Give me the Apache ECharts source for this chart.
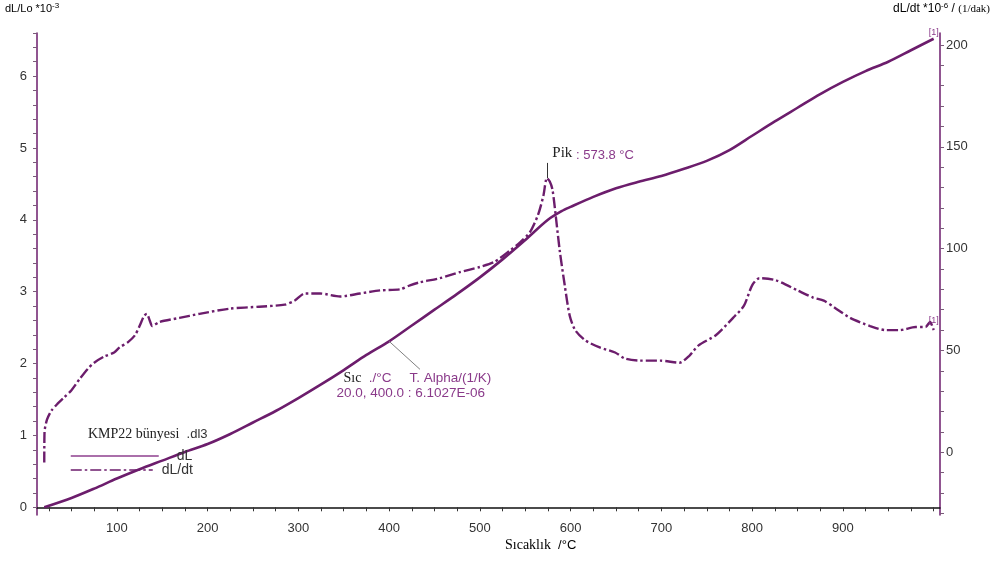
<!DOCTYPE html>
<html>
<head>
<meta charset="utf-8">
<script src="https://cdn.jsdelivr.net/npm/echarts@6/dist/echarts.min.js"></script>
<style>
  html, body { margin: 0; padding: 0; background: #ffffff; }
  #chart { width: 994px; height: 561px; }
</style>
</head>
<body>
<div id="chart"></div>
<script>
// Dilatometer run, sample "KMP22 bünyesi" (.dl3): relative expansion dL and its rate dL/dt

// dL/Lo *10^-3 against temperature (°C)
const dlTemps = [20, 50, 75, 100, 125, 150, 175, 200, 225, 250, 275, 300, 325, 350, 375, 400,
  425, 450, 475, 500, 525, 550, 575, 590, 600, 625, 650, 675, 700, 725, 750, 775, 800, 825,
  850, 875, 900, 925, 950, 975, 1000];
const dlValues = [0.00, 0.13, 0.26, 0.40, 0.53, 0.65, 0.77, 0.88, 1.02, 1.18, 1.34, 1.52, 1.71,
  1.91, 2.12, 2.31, 2.53, 2.75, 2.97, 3.20, 3.45, 3.72, 4.00, 4.12, 4.18, 4.32, 4.44, 4.53,
  4.61, 4.71, 4.82, 4.97, 5.17, 5.37, 5.56, 5.75, 5.92, 6.07, 6.20, 6.36, 6.52];

// dL/dt *10^-6 (1/dak) against temperature (°C)
const rateTemps = [20, 20.3, 23, 28, 35, 42, 50, 59, 68, 75, 86, 97, 103, 112, 120, 125, 130,
  133, 136, 139, 147, 169, 191, 224, 257, 285, 296, 307, 324, 346, 368, 390, 412, 423, 434,
  456, 478, 500, 516, 533, 544, 555, 564, 570, 573.8, 577, 580, 583.5, 588, 593.5, 599, 605,
  616, 632, 649, 660, 676, 699, 720, 731, 741, 760, 779, 791, 800, 808, 826, 850, 867, 879,
  891, 908, 930, 947, 963, 980, 991, 996, 1000];
const rateValues = [-5, 10, 16, 20.5, 24, 27, 30.5, 36, 41, 44, 47, 49, 51.5, 54, 57.5, 62, 67,
  68, 65, 62, 64, 66, 68, 70.5, 71.5, 72.5, 74.5, 78, 78, 76.5, 78, 79.5, 80, 82, 83.5,
  85.5, 88.5, 91, 93.5, 99, 103, 108, 116.5, 126, 134.6, 133, 129, 116.5, 99, 82, 67, 60,
  55, 51.5, 49, 46, 45, 45, 44, 47.5, 52.5, 57.5, 66, 72, 82, 85.5, 84.5, 79.5, 76, 74.5,
  71, 66, 62, 60, 60, 61.5, 61.5, 64, 60];

// Axis labels and ticks
const xLabels = [100, 200, 300, 400, 500, 600, 700, 800, 900];
const leftLabels = [0, 1, 2, 3, 4, 5, 6];
const rightLabels = [0, 50, 100, 150, 200];
const xTickValues = [];
for (let t = 25; t <= 1000; t += 25) xTickValues.push(t);
const leftTickValues = [];
for (let i = 0; i <= 33; i++) leftTickValues.push(+(i * 0.2).toFixed(1));
const rightTickValues = [];
for (let v = -30; v <= 200; v += 10) rightTickValues.push(v);

// Thermal expansion coefficient read-out
const alphaFrom = 20.0;
const alphaTo = 400.0;
const alphaText = '6.1027E-06';

const PURPLE = '#6c1d6c';
const TEXT_PURPLE = '#8a3a8a';
const SANS = '"Liberation Sans", Arial, sans-serif';
const NARROW = '"Liberation Sans Narrow", "Arial Narrow", "Liberation Sans", sans-serif';
const SERIF = '"Liberation Serif", "Times New Roman", serif';

const dlData = dlTemps.map((t, i) => [t, dlValues[i]]);
const rateData = rateTemps.map((t, i) => [t, rateValues[i]]);

// Peak of the rate curve
let peakIdx = 0;
rateValues.forEach((v, i) => { if (v > rateValues[peakIdx]) peakIdx = i; });
const peakT = rateTemps[peakIdx];
const peakV = rateValues[peakIdx];

const dlAtAlphaEnd = dlValues[dlTemps.indexOf(alphaTo)];
const lastDl = dlData[dlData.length - 1];
const lastRate = rateData[rateData.length - 1];

const chart = echarts.init(document.getElementById('chart'), null, { renderer: 'canvas' });

chart.setOption({
  backgroundColor: '#ffffff',
  animation: false,
  grid: { left: 37, right: 54, top: 33, bottom: 46, containLabel: false, outerBoundsMode: 'none' },
  title: {
    text: '{a|KMP22 bünyesi}{b|  .dl3}',
    left: 83, top: 422,
    textStyle: {
      fontWeight: 'normal',
      rich: {
        a: { fontFamily: SERIF, fontSize: 14, color: '#222', fontWeight: 'normal' },
        b: { fontFamily: SANS, fontSize: 13, color: '#333', fontWeight: 'normal' }
      }
    }
  },
  legend: [
    {
      data: ['dL'], left: 65, top: 444, itemWidth: 88, itemHeight: 12,
      selectedMode: false,
      itemStyle: { opacity: 0 },
      lineStyle: { width: 1.5, color: '#8e3f8e' },
      textStyle: { fontFamily: SANS, fontSize: 14, color: '#333', padding: [0, 0, 0, 13] }
    },
    {
      data: ['dL/dt'], left: 65, top: 458, itemWidth: 82, itemHeight: 12,
      selectedMode: false,
      itemStyle: { opacity: 0 },
      lineStyle: { width: 1.5 },
      textStyle: { fontFamily: SANS, fontSize: 14, color: '#333', padding: [0, 0, 0, 4] }
    }
  ],
  xAxis: {
    type: 'value', min: 12, max: 1007,
    axisLine: { lineStyle: { color: '#111', width: 1.5 } },
    axisTick: { customValues: xTickValues, length: 4, lineStyle: { color: '#333' } },
    axisLabel: { customValues: xLabels, fontFamily: NARROW, fontSize: 13, color: '#333', margin: 7 },
    splitLine: { show: false }
  },
  yAxis: [
    {
      type: 'value', position: 'left', min: -0.107, max: 6.6,
      axisLine: { show: true, lineStyle: { color: PURPLE, width: 1.5 } },
      axisTick: { customValues: leftTickValues, length: 4, lineStyle: { color: '#7a5a7a' } },
      axisLabel: { customValues: leftLabels, fontFamily: SANS, fontSize: 13, color: '#333', margin: 10 },
      splitLine: { show: false }
    },
    {
      type: 'value', position: 'right', min: -30.8, max: 205.9,
      axisLine: { show: true, lineStyle: { color: PURPLE, width: 1.5 } },
      axisTick: { customValues: rightTickValues, length: 4, lineStyle: { color: '#7a5a7a' } },
      axisLabel: { customValues: rightLabels, fontFamily: SANS, fontSize: 13, color: '#333', margin: 6 },
      splitLine: { show: false }
    }
  ],
  graphic: [
    {
      type: 'text', left: 5, top: 2,
      style: {
        text: '{t|dL/Lo *10}{s|-3}',
        rich: {
          t: { fontFamily: SANS, fontSize: 11, color: '#222' },
          s: { fontFamily: SANS, fontSize: 8, color: '#222', verticalAlign: 'top', padding: [0, 0, 6, 0] }
        }
      }
    },
    {
      type: 'text', right: 4, top: 2,
      style: {
        text: '{t|dL/dt *10}{s|-6}{t| / }{d|(1/dak)}',
        rich: {
          t: { fontFamily: SANS, fontSize: 12, color: '#222' },
          s: { fontFamily: SANS, fontSize: 8, color: '#222', verticalAlign: 'top', padding: [0, 0, 6, 0] },
          d: { fontFamily: SERIF, fontSize: 11, color: '#444' }
        }
      }
    },
    {
      type: 'text', left: 505, top: 538,
      style: {
        text: '{a|Sıcaklık}{b|  /°C}',
        rich: {
          a: { fontFamily: SERIF, fontSize: 14, color: '#222' },
          b: { fontFamily: NARROW, fontSize: 13, color: '#333' }
        }
      }
    }
  ],
  series: [
    {
      name: 'dL', type: 'line', yAxisIndex: 0, data: dlData,
      symbol: 'none', smooth: 0.3,
      lineStyle: { color: PURPLE, width: 2.6 },
      itemStyle: { color: PURPLE },
      markLine: {
        silent: true, symbol: ['none', 'none'],
        lineStyle: { color: '#808080', width: 1, type: 'solid' },
        label: { show: false },
        data: [[{ coord: [alphaTo, dlAtAlphaEnd] }, { coord: [434, 1.92] }]]
      },
      markPoint: {
        silent: true, symbol: 'circle', symbolSize: 1,
        itemStyle: { color: 'rgba(0,0,0,0)' },
        data: [
          {
            coord: [434, 1.92],
            label: {
              show: true, position: [-83, 2], align: 'left', verticalAlign: 'top',
              lineHeight: 15,
              formatter: '{s|Sıc}{p|  ./°C}{g|}{p|T. Alpha/(1/K)}\n{p|' +
                alphaFrom.toFixed(1) + ', ' + alphaTo.toFixed(1) + ' : ' + alphaText + '}',
              rich: {
                s: { fontFamily: SERIF, fontSize: 14, color: '#222', lineHeight: 15, padding: [0, 0, 0, 7] },
                p: { fontFamily: SANS, fontSize: 13.5, color: TEXT_PURPLE, lineHeight: 15 },
                g: { width: 18 }
              }
            }
          },
          {
            coord: lastDl,
            label: {
              show: true, position: 'top', distance: 1, formatter: '[1]',
              fontFamily: SANS, fontSize: 9, color: TEXT_PURPLE
            }
          }
        ]
      },
      z: 3
    },
    {
      name: 'dL/dt', type: 'line', yAxisIndex: 1, data: rateData,
      symbol: 'none', smooth: 0.25,
      lineStyle: { color: PURPLE, width: 2.4, type: [11, 3, 2.5, 3] },
      itemStyle: { color: PURPLE },
      markLine: {
        silent: true, symbol: ['none', 'none'],
        lineStyle: { color: '#333', width: 1, type: 'solid' },
        label: { show: false },
        data: [[{ coord: [peakT, peakV] }, { coord: [peakT, peakV + 7.5] }]]
      },
      markPoint: {
        silent: true, symbol: 'circle', symbolSize: 1,
        itemStyle: { color: 'rgba(0,0,0,0)' },
        data: [
          {
            coord: [peakT, peakV + 7.5],
            label: {
              show: true, position: [6, -9], align: 'left', verticalAlign: 'middle',
              formatter: '{k|Pik}{v| : ' + peakT.toFixed(1) + ' °C}',
              rich: {
                k: { fontFamily: SERIF, fontSize: 15, color: '#222' },
                v: { fontFamily: SANS, fontSize: 13, color: TEXT_PURPLE, padding: [4, 0, 0, 0] }
              }
            }
          },
          {
            coord: lastRate,
            label: {
              show: true, position: 'top', distance: 5, formatter: '[1]',
              fontFamily: SANS, fontSize: 9, color: TEXT_PURPLE
            }
          }
        ]
      },
      z: 3
    }
  ]
});
</script>
</body>
</html>
